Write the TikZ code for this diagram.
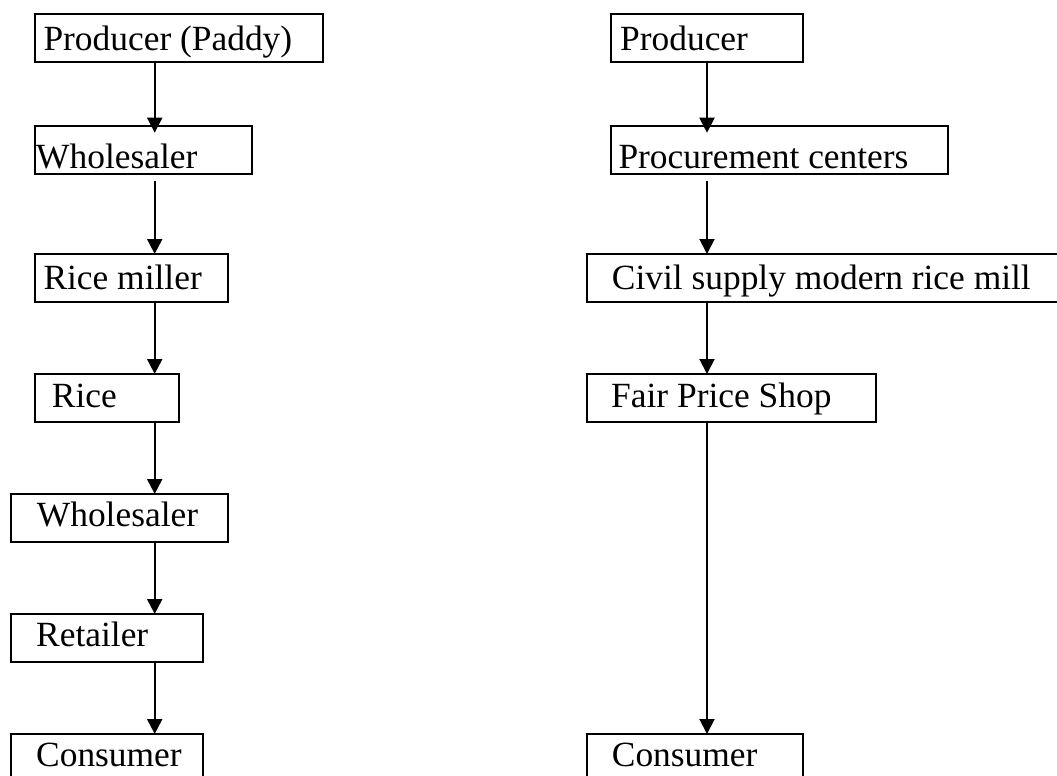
\documentclass[tikz,border=0pt]{standalone}
\usepackage{fontspec}
\setmainfont{Liberation Serif}
\usetikzlibrary{arrows.meta}
\begin{document}
\begin{tikzpicture}[x=1pt, y=-1pt,
  stage/.style={draw, line width=2pt, rectangle, inner sep=0pt, outer sep=0pt, anchor=north west},
  word/.style={anchor=base west, inner sep=0pt, font=\fontsize{35.4}{40}\selectfont},
  flow/.style={line width=2pt, -{Triangle[width=15pt, length=15pt]}}]
\useasboundingbox (0,0) rectangle (1057,776);
\clip (0,0) rectangle (1057,776);

% column axes for the arrows
\coordinate (ax) at (154.7,0);
\coordinate (bx) at (707,0);

% private trade channel
\node[stage, minimum width=288.6pt, minimum height=48pt] (L1) at (34.7,14)  {};
\node[stage, minimum width=217pt,   minimum height=48.3pt] (L2) at (34.7,125.7) {};
\node[stage, minimum width=193pt,   minimum height=48pt] (L3) at (34.7,254) {};
\node[stage, minimum width=144.6pt, minimum height=48pt] (L4) at (34.7,374) {};
\node[stage, minimum width=217pt,   minimum height=48pt] (L5) at (10.7,494) {};
\node[stage, minimum width=192.6pt, minimum height=48pt] (L6) at (10.7,614) {};
\node[stage, minimum width=192.6pt, minimum height=48pt] (L7) at (10.7,734) {};

\node[word] (tL1) at (43.3,50.7)  {Producer (Paddy)};
\node[word] (tL2) at (36,168.3)   {Wholesaler};
\node[word] (tL3) at (43.3,289.3) {Rice miller};
\node[word] (tL4) at (51.7,407.7) {Rice};
\node[word] (tL5) at (36.7,526.7) {Wholesaler};
\node[word] (tL6) at (36,646.7)   {Retailer};
\node[word] (tL7) at (36,766)     {Consumer};

% public distribution channel
\node[stage, minimum width=192.6pt, minimum height=48pt] (R1) at (610.7,14) {};
\node[stage, minimum width=337pt,   minimum height=48.3pt] (R2) at (610.7,125.7) {};
\node[stage, minimum width=490pt,   minimum height=48pt] (R3) at (586.7,254) {};
\node[stage, minimum width=289pt,   minimum height=48pt] (R4) at (586.7,374) {};
\node[stage, minimum width=216.6pt, minimum height=48pt] (R5) at (586.7,734) {};

\node[word] (tR1) at (620,50.7)    {Producer};
\node[word] (tR2) at (618.3,168.3) {Procurement centers};
\node[word] (tR3) at (611.7,289.3) {Civil supply modern rice mill};
\node[word] (tR4) at (611,407.7)   {Fair Price Shop};
\node[word] (tR5) at (611.7,766)   {Consumer};

% connectors
\draw[flow, shorten >=-7pt] (L1.south -| ax) -- (L2.north -| ax);
\draw[flow, shorten <=7pt]  (L2.south -| ax) -- (L3.north -| ax);
\draw[flow] (L3.south -| ax) -- (L4.north -| ax);
\draw[flow] (L4.south -| ax) -- (L5.north -| ax);
\draw[flow] (L5.south -| ax) -- (L6.north -| ax);
\draw[flow] (L6.south -| ax) -- (L7.north -| ax);

\draw[flow, shorten >=-7pt] (R1.south -| bx) -- (R2.north -| bx);
\draw[flow, shorten <=7pt]  (R2.south -| bx) -- (R3.north -| bx);
\draw[flow] (R3.south -| bx) -- (R4.north -| bx);
\draw[flow] (R4.south -| bx) -- (R5.north -| bx);
\end{tikzpicture}
\end{document}
